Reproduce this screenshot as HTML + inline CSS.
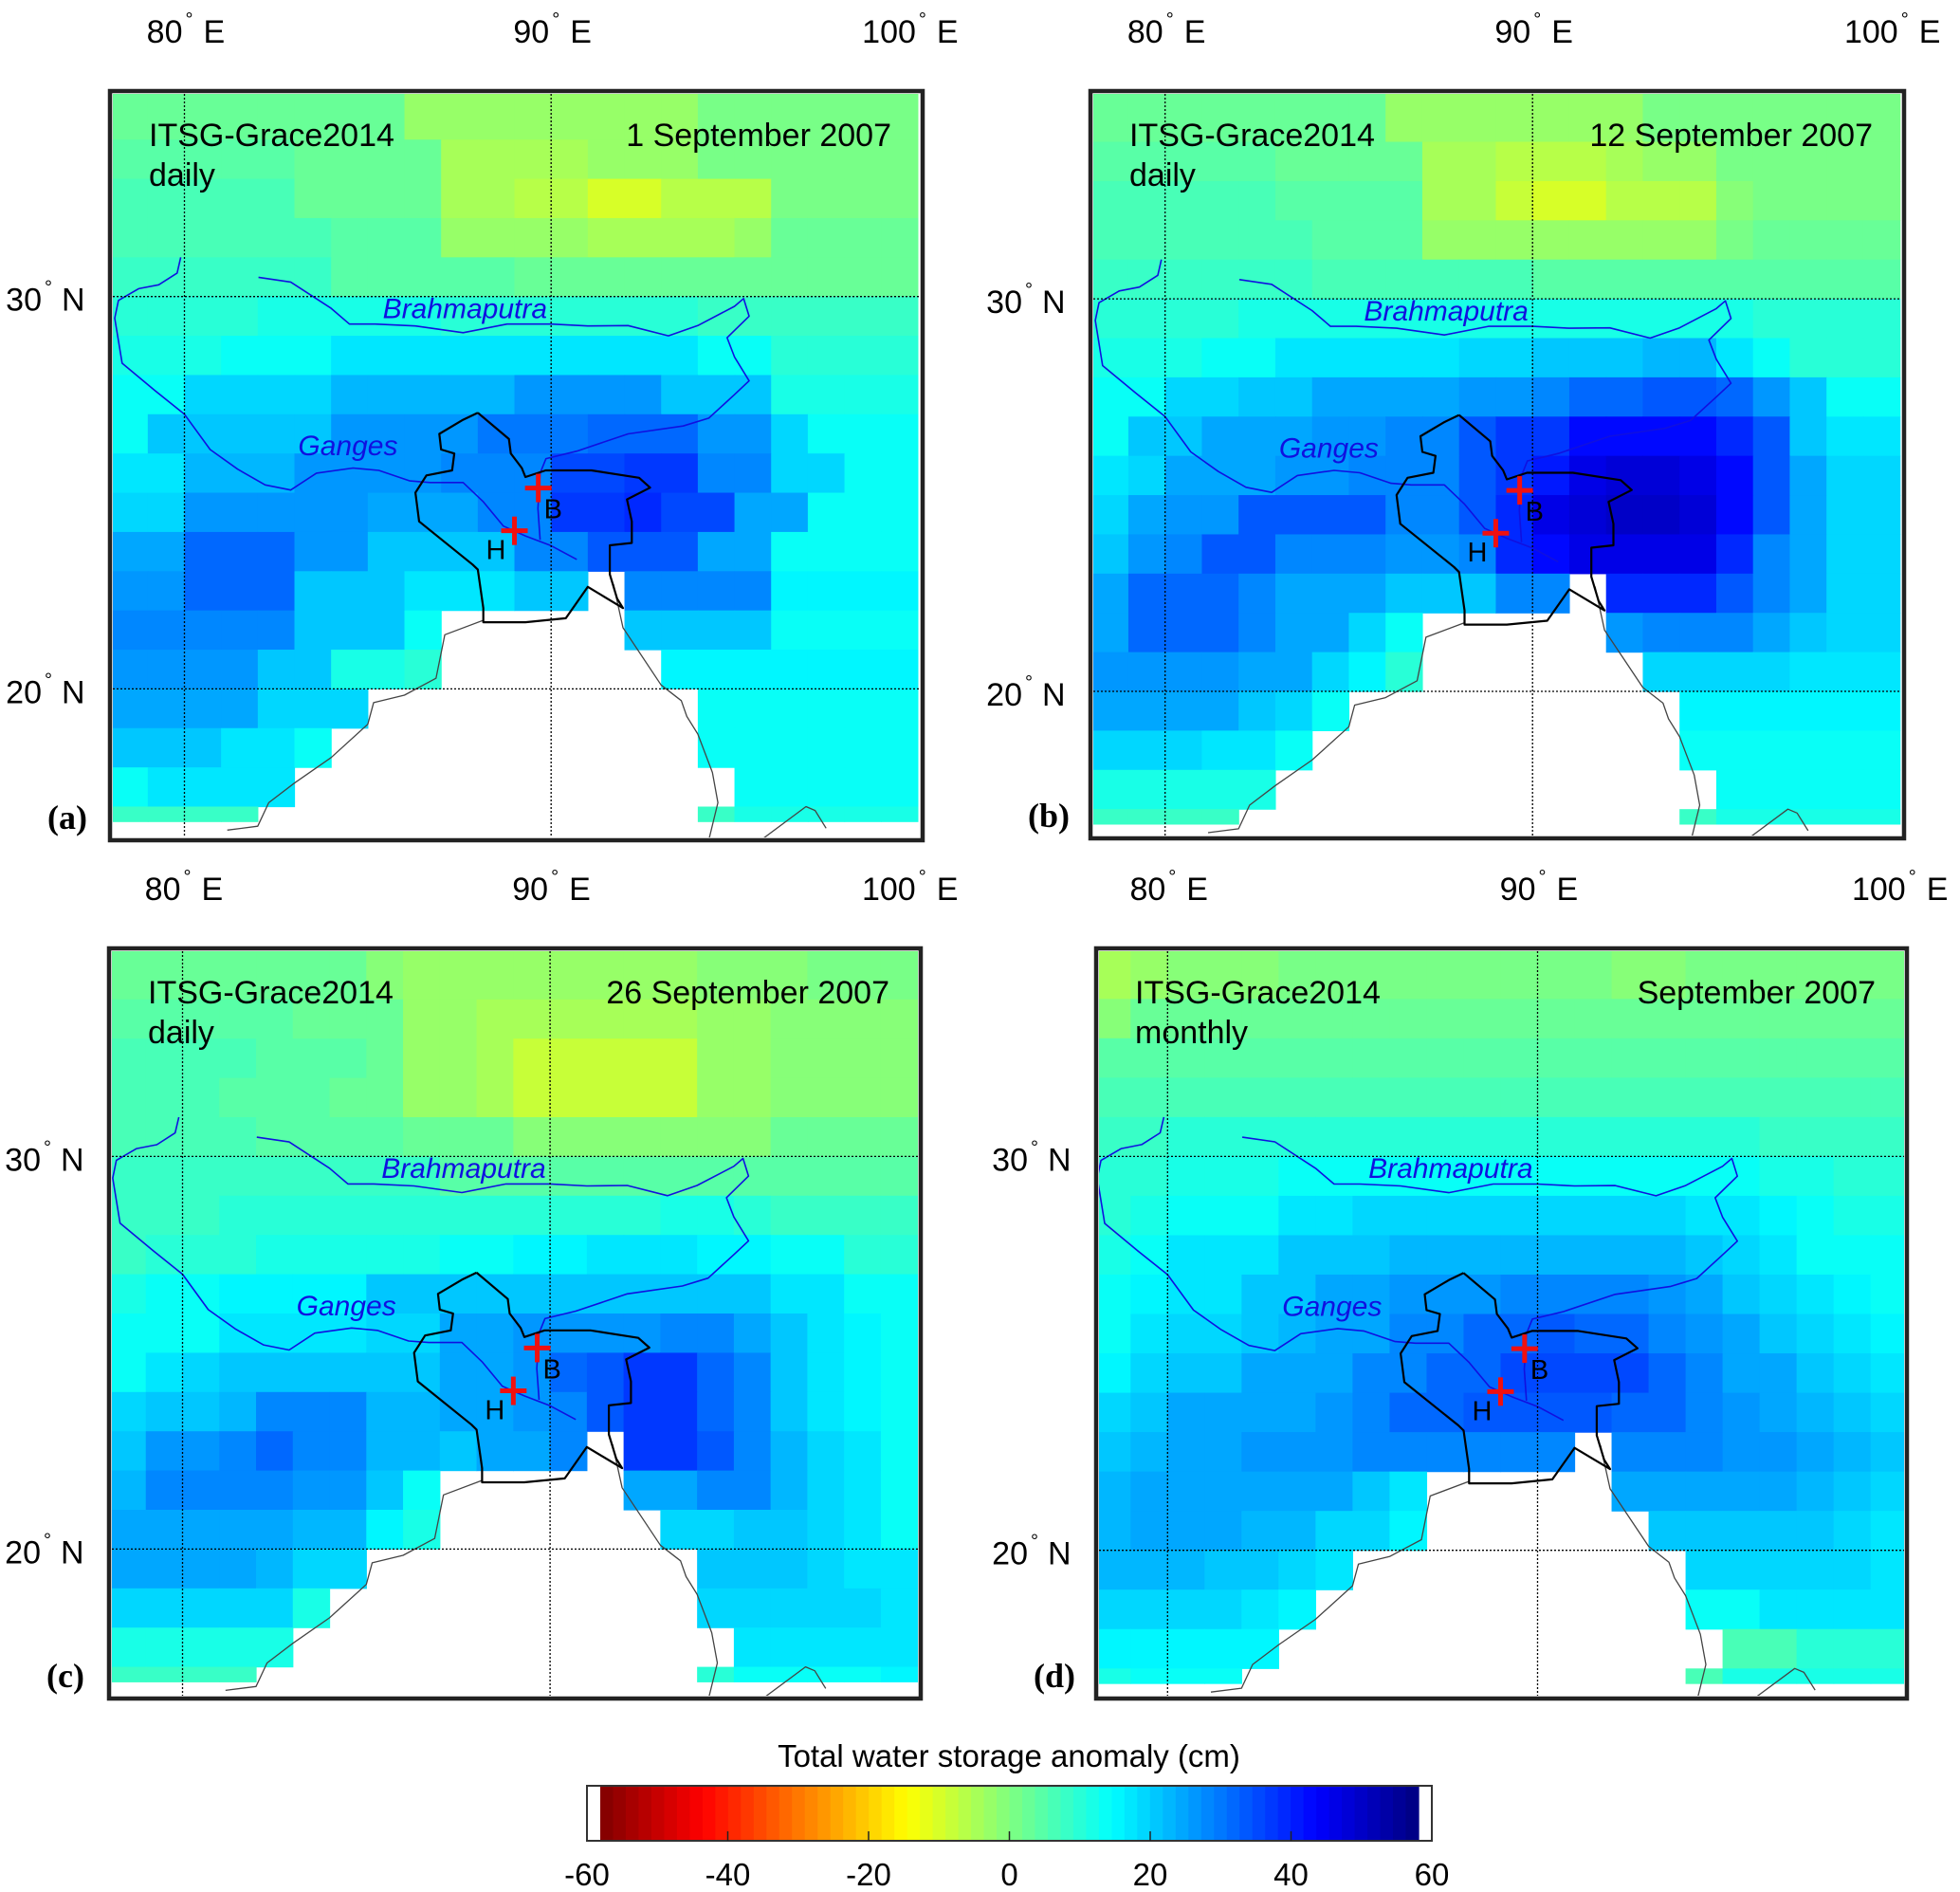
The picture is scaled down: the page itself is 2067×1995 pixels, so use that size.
<!DOCTYPE html>
<html><head><meta charset="utf-8">
<style>
html,body{margin:0;padding:0;background:#fff;}
svg{display:block;font-family:"Liberation Sans",Arial,sans-serif;}
</style></head>
<body>
<svg id="fig" width="2067" height="1995" viewBox="0 0 2067 1995" xmlns="http://www.w3.org/2000/svg"></svg>
<script>
const N = null;
const lonEdges = [78,79,80,81,82,83,84,85,86,87,88,89,90,91,92,93,94,95,96,97,98,99];
const latTops = [35,34,33,32,31,30,29,28,27,26,25,24,23,22,21,20,19,18,17];
const lonTicks = [80,90,100];
const latTicks = [30,20];
const cbTicks = [-60,-40,-20,0,20,40,60];

const tswsA = [
[2,2,2,2,2,2,2,2,-2,-2,-2,-2,-2,-2,-2,-2,1,1,1,1,1,1],
[5,5,5,5,5,2,2,2,2,-4,-4,-4,-4,-3,-3,-3,1,1,1,1,1,1],
[6,6,6,6,6,3,3,3,3,-5,-5,-6,-6,-10,-10,-7,-7,-6,1,1,1,1],
[7,7,7,7,7,6,5,5,5,-2,-2,-2,-2,-5,-5,-5,-5,-2,2,2,2,2],
[8,8,8,8,8,8,5,5,5,5,5,2,2,2,2,2,2,2,3,3,3,3],
[10,10,10,10,12,12,12,12,12,10,10,10,10,10,10,10,8,8,8,8,8,8],
[12,12,12,15,15,15,17,17,17,17,17,17,17,18,18,18,15,15,10,10,10,10],
[15,15,20,20,20,20,24,24,24,24,24,27,27,27,27,22,22,22,13,13,13,13],
[15,22,22,22,22,22,27,27,27,27,31,31,31,33,33,33,27,27,20,15,15,15],
[17,17,24,24,24,27,27,27,27,30,30,30,36,36,38,38,30,30,20,20,15,15],
[20,20,28,28,28,28,28,26,26,26,30,30,38,38,40,36,36,25,25,15,15,15],
[25,25,32,32,32,28,28,22,22,22,22,30,30,35,35,35,25,25,15,15,15,15],
[28,28,32,32,32,22,22,22,18,18,18,22,22,N,30,30,30,30,16,16,16,16],
[30,30,30,30,30,22,22,22,14,N,N,N,N,N,22,22,22,22,15,15,15,15],
[28,28,28,28,22,22,12,12,10,N,N,N,N,N,N,16,16,16,16,16,16,16],
[25,25,25,25,20,20,20,N,N,N,N,N,N,N,N,N,15,15,15,15,15,15],
[22,22,22,18,18,15,N,N,N,N,N,N,N,N,N,N,14,14,14,14,14,14],
[15,17,17,17,17,N,N,N,N,N,N,N,N,N,N,N,N,14,14,14,14,14],
[8,8,8,8,N,N,N,N,N,N,N,N,N,N,N,N,8,12,12,12,12,12]];

const tswsB = [
[2,2,2,2,2,2,2,2,-2,-2,-2,-2,-2,-2,-2,1,1,1,1,1,1,1],
[5,5,5,5,5,3,3,3,3,-5,-5,-7,-7,-7,-5,-3,-3,1,1,1,1,1],
[6,6,6,6,6,4,4,4,4,-5,-5,-8,-10,-10,-7,-6,-6,0,1,1,1,1],
[7,7,7,7,7,6,5,5,5,-2,-2,-2,-2,-2,-2,-2,-2,1,2,2,2,2],
[8,8,8,8,8,8,7,7,7,7,7,7,5,5,5,5,5,5,5,5,5,5],
[10,10,10,10,12,12,12,12,12,12,12,12,12,12,12,12,12,12,10,10,10,10],
[12,12,12,15,15,18,18,18,18,18,20,20,22,22,22,24,24,18,14,10,10,10],
[15,15,20,20,22,22,26,26,26,26,28,28,30,32,32,34,34,32,28,22,15,15],
[15,22,22,25,25,25,28,28,30,30,34,38,38,44,44,44,44,40,35,22,18,18],
[17,20,25,25,25,28,28,30,30,30,34,38,42,48,50,50,48,44,35,25,20,20],
[20,25,28,28,34,34,34,34,30,30,34,40,48,50,52,52,50,45,35,25,20,20],
[22,28,30,34,34,30,30,30,28,28,30,40,45,48,48,48,48,40,30,25,20,20],
[25,32,32,32,30,26,26,26,22,22,22,30,30,N,40,40,40,35,30,25,20,20],
[25,32,32,32,30,25,25,20,14,N,N,N,N,N,28,30,30,30,25,22,20,20],
[28,28,28,28,25,25,20,16,10,N,N,N,N,N,N,20,20,20,20,18,18,18],
[25,25,25,25,22,20,15,N,N,N,N,N,N,N,N,N,16,16,16,16,16,16],
[20,20,20,18,18,15,N,N,N,N,N,N,N,N,N,N,14,14,14,14,14,14],
[13,13,13,13,13,N,N,N,N,N,N,N,N,N,N,N,N,14,14,14,14,14],
[8,8,8,8,N,N,N,N,N,N,N,N,N,N,N,N,8,12,12,12,12,12]];

const tswsC = [
[3,3,3,3,3,2,2,0,-2,-2,-2,-2,-2,-2,-2,-2,0,0,0,1,1,1],
[5,5,5,5,5,3,3,3,-3,-3,-5,-5,-5,-5,-4,-4,-2,-2,0,0,0,0],
[6,6,6,6,4,4,4,2,-3,-3,-5,-9,-9,-9,-9,-8,-3,-3,0,0,0,0],
[7,7,7,5,5,5,3,3,-2,-2,-5,-8,-8,-8,-8,-8,-3,-3,0,0,0,0],
[7,7,7,7,5,5,5,5,2,2,2,-1,-1,-1,-1,-1,-1,0,2,2,2,2],
[8,8,8,8,8,8,8,8,8,5,5,5,5,5,5,5,5,5,5,5,5,5],
[8,8,8,10,10,10,10,10,10,10,10,10,10,10,10,12,12,10,8,8,8,8],
[8,10,10,10,12,12,12,12,12,15,15,16,16,18,18,18,16,16,15,15,10,10],
[12,15,15,16,16,16,16,22,22,22,22,22,22,22,22,22,22,22,18,18,15,15],
[15,15,15,17,17,17,17,20,20,25,25,28,28,28,28,30,30,25,22,18,16,15],
[15,17,20,22,22,22,22,22,22,25,25,28,32,35,38,38,32,30,22,18,16,15],
[20,22,22,24,30,30,30,24,24,25,25,28,30,35,38,38,32,30,22,18,16,15],
[22,28,28,30,32,30,30,24,24,22,25,25,30,N,38,38,34,30,24,20,18,15],
[24,30,30,30,30,28,28,22,15,N,N,N,N,N,26,26,30,30,24,20,18,15],
[26,26,26,26,26,24,24,16,12,N,N,N,N,N,N,20,20,22,22,20,18,15],
[26,26,26,26,24,20,20,N,N,N,N,N,N,N,N,N,22,22,22,20,18,18],
[20,20,20,20,20,12,N,N,N,N,N,N,N,N,N,N,20,20,20,20,20,18],
[12,12,12,12,12,N,N,N,N,N,N,N,N,N,N,N,N,18,18,18,18,18],
[8,8,8,8,N,N,N,N,N,N,N,N,N,N,N,N,10,14,14,14,14,16]];

const tswsD = [
[-4,-2,0,0,0,1,1,1,1,1,1,1,1,1,0,0,1,1,1,1,1,1],
[0,2,2,2,2,2,2,3,3,3,3,3,2,2,3,3,3,3,3,3,3,3],
[5,5,5,5,5,5,5,5,5,5,5,5,5,5,5,5,5,5,5,5,5,5],
[6,6,6,6,6,6,6,6,7,7,7,7,7,7,7,7,7,7,6,6,6,6],
[8,8,10,10,10,10,10,10,10,10,10,10,10,10,10,10,10,10,8,8,8,8],
[10,10,12,12,12,14,14,14,14,14,14,14,14,14,14,14,14,14,12,12,10,10],
[10,12,14,15,15,18,18,20,20,20,20,20,20,20,20,20,18,18,16,14,12,12],
[12,15,18,18,18,22,22,22,24,24,24,24,24,24,24,24,22,20,18,15,14,14],
[14,16,18,18,22,22,25,25,28,28,28,30,30,30,30,28,25,22,20,18,16,15],
[14,18,20,20,22,24,26,26,30,30,32,32,34,32,32,30,28,25,22,20,18,16],
[16,20,22,22,25,25,25,30,30,32,32,36,36,36,36,32,30,26,25,22,20,18],
[20,22,25,25,25,25,28,30,32,32,34,34,34,34,32,32,30,28,26,24,22,20],
[22,24,25,25,28,28,28,30,30,30,30,30,30,N,30,30,30,28,28,26,24,22],
[24,26,26,26,26,26,26,22,18,N,N,N,N,N,26,26,26,26,26,24,22,20],
[24,26,26,26,24,24,20,20,16,N,N,N,N,N,N,22,22,22,22,22,20,18],
[24,24,24,22,22,20,18,N,N,N,N,N,N,N,N,N,20,20,20,20,20,18],
[20,20,20,20,18,16,N,N,N,N,N,N,N,N,N,N,14,14,18,18,18,18],
[16,16,16,16,16,N,N,N,N,N,N,N,N,N,N,N,N,6,6,10,10,10],
[12,14,14,14,N,N,N,N,N,N,N,N,N,N,N,N,6,12,12,12,12,12]];

const brahmaputra = [[82.02,30.49],[82.9,30.37],[84.0,29.7],[84.5,29.3],[85.2,29.3],[86.3,29.25],[87.6,29.08],[88.8,29.3],[90,29.3],[91,29.25],[92.1,29.26],[93.2,29.0],[94,29.26],[95,29.75],[95.25,29.95],[95.4,29.5],[94.8,28.95],[95.0,28.46],[95.4,27.85],[95.0,27.5],[94.3,26.9],[93.6,26.7],[92.1,26.5],[90.7,26.06],[89.86,25.87],[89.7,25.5],[89.64,24.6],[89.7,23.8]];
const ganges = [[79.9,31.0],[79.8,30.6],[79.3,30.3],[78.75,30.2],[78.2,29.9],[78.1,29.45],[78.3,28.3],[79.2,27.6],[80.0,27.0],[80.7,26.1],[81.45,25.6],[82.2,25.2],[82.9,25.07],[83.6,25.5],[84.6,25.63],[85.3,25.57],[86.15,25.3],[86.7,25.26],[87.6,25.26],[88.15,24.77],[88.7,24.15],[89.3,23.9],[90.0,23.65],[90.7,23.3]];
const border = [[88.0,27.04],[88.85,26.37],[88.9,26.0],[89.2,25.63],[89.3,25.4],[89.85,25.57],[91.1,25.57],[92.4,25.38],[92.7,25.13],[92.07,24.83],[92.2,24.27],[92.2,23.72],[91.6,23.66],[91.6,22.92],[91.8,22.3],[91.96,22.06],[91.0,22.6],[90.4,21.8],[89.3,21.7],[88.15,21.7],[88.15,22.06],[88.0,23.04],[87.86,23.17],[86.4,24.27],[86.3,25.0],[86.6,25.44],[87.3,25.57],[87.36,26.0],[87.0,26.1],[86.95,26.5],[87.6,26.86],[88.0,27.04]];
const coastWest = [[81.17,16.4],[82.0,16.5],[82.3,17.1],[83.0,17.6],[84.0,18.25],[85.0,19.1],[85.16,19.65],[86.0,19.84],[86.86,20.27],[87.1,21.38],[88.15,21.75]];
const coastEast = [[91.7,22.67],[91.96,21.56],[93.0,20.1],[93.55,19.7],[93.7,19.3],[94.0,18.85],[94.4,17.87],[94.55,17.1],[94.3,16.15]];
const coastSE = [[95.8,16.2],[96.95,17.0],[97.2,16.9],[97.5,16.45]];
const stationB = [89.65,25.12];
const stationH = [89.0,24.03];

const panels = [
 {id:'a', data:tswsA, x80:194.5, x90:581.2, y30:312.7, y20:726.4, fx:114, fy:94, fw:861, fh:794, t1:'ITSG-Grace2014', t2:'daily', date:'1 September 2007'},
 {id:'b', data:tswsB, x80:1228.7, x90:1616.2, y30:315.1, y20:729.0, fx:1148, fy:94, fw:862, fh:792, t1:'ITSG-Grace2014', t2:'daily', date:'12 September 2007'},
 {id:'c', data:tswsC, x80:192.5, x90:580.1, y30:1219.4, y20:1633.4, fx:113, fy:998, fw:860, fh:795, t1:'ITSG-Grace2014', t2:'daily', date:'26 September 2007'},
 {id:'d', data:tswsD, x80:1231.3, x90:1621.5, y30:1219.4, y20:1634.7, fx:1154, fy:998, fw:859, fh:795, t1:'ITSG-Grace2014', t2:'monthly', date:'September 2007'}
];

const SVGNS='http://www.w3.org/2000/svg';
const svg=document.getElementById('fig');
function mk(tag,attrs,parent){const e=document.createElementNS(SVGNS,tag);for(const k in attrs)e.setAttribute(k,attrs[k]);(parent||svg).appendChild(e);return e;}

function jet(t){const c=x=>Math.max(0,Math.min(1,x));return [c(1.5-Math.abs(4*t-3)),c(1.5-Math.abs(4*t-2)),c(1.5-Math.abs(4*t-1))];}
function colorOf(v){
  let t=(60-v)/120; let idx=Math.min(63,Math.max(0,Math.floor(t*64))); t=(idx+0.5)/64;
  const c=jet(t); return 'rgb('+c.map(x=>Math.round(x*255)).join(',')+')';}

const defs=mk('defs',{});
panels.forEach((p,pi)=>{
  const sx=(p.x90-p.x80)/10, sy=(p.y20-p.y30)/10;
  const X=lon=>p.x80+(lon-80)*sx;
  const Y=lat=>p.y30-(lat-30)*sy;
  const ix=p.fx+5, iy=p.fy+5, iw=p.fw-10, ih=p.fh-10;
  const cp=mk('clipPath',{id:'clip'+p.id},defs);
  mk('rect',{x:ix,y:iy,width:iw,height:ih},cp);
  const g=mk('g',{'clip-path':'url(#clip'+p.id+')'});
  
  
  mk('rect',{x:ix,y:iy,width:iw,height:ih,fill:'#fff'},g);
  p.data.forEach((row,r)=>{
    row.forEach((v,c)=>{
      if(v===null)return;
      const top=latTops[r], bot=(r===latTops.length-1)?16.62:top-1;
      const topEff=(r===0)?36:top;
      const lon0=lonEdges[c], lon1=lon0+1;
      const rc=mk('rect',{x:X(lon0).toFixed(2),y:Y(topEff).toFixed(2),width:(X(lon1)-X(lon0)+0.6).toFixed(2),height:(Y(bot)-Y(topEff)+0.6).toFixed(2),fill:colorOf(v)},g);
      
      
    });
  });
  const line=(pts,color,w,name)=>{const e=mk('polyline',{points:pts.map(q=>X(q[0]).toFixed(1)+','+Y(q[1]).toFixed(1)).join(' '),fill:'none',stroke:color,'stroke-width':w,'stroke-linejoin':'round'},g);
    
    };
  line(coastWest,'#444',1.3,'coastline-west');
  line(coastEast,'#444',1.3,'coastline-east');
  line(coastSE,'#444',1.3,'coastline-southeast');
  line(brahmaputra,'#1010e0',1.6,'brahmaputra-river');
  line(ganges,'#1010e0',1.6,'ganges-river');
  line(border,'#000',2.2,'bangladesh-border');
  lonTicks.forEach(l=>{if(l<100){const e=mk('line',{x1:X(l),x2:X(l),y1:iy,y2:iy+ih,stroke:'#000','stroke-width':1.3,'stroke-dasharray':'2,2'},g);
    
    }});
  latTicks.forEach(l=>{const e=mk('line',{x1:ix,x2:ix+iw,y1:Y(l),y2:Y(l),stroke:'#000','stroke-width':1.3,'stroke-dasharray':'2,2'},g);
    
    });
  const bl=mk('text',{x:X(87.65),y:Y(29.45),'text-anchor':'middle','font-size':30,'font-style':'italic',fill:'#1010e0'},g);bl.textContent='Brahmaputra';
  
  
  const gl=mk('text',{x:X(83.1),y:Y(25.95),'font-size':30,'font-style':'italic',fill:'#1010e0'},g);gl.textContent='Ganges';
  
  
  [[stationB,'B',6,32],[stationH,'H',-30,30]].forEach(s=>{
    const cx=X(s[0][0]), cy=Y(s[0][1]);
    const sg=mk('g',{},g);
    
    
    mk('line',{x1:cx-14,x2:cx+14,y1:cy,y2:cy,stroke:'#f01010','stroke-width':5},sg);
    mk('line',{x1:cx,x2:cx,y1:cy-15,y2:cy+15,stroke:'#f01010','stroke-width':5},sg);
    const t=mk('text',{x:cx+s[2],y:cy+s[3],'font-size':29,fill:'#000'},sg);t.textContent=s[1];
  });
  const t1=mk('text',{x:ix+38,y:iy+55,'font-size':34,fill:'#000'},g);t1.textContent=p.t1;
  
  
  const t2=mk('text',{x:ix+38,y:iy+97,'font-size':34,fill:'#000'},g);t2.textContent=p.t2;
  
  
  const t3=mk('text',{x:ix+iw-30,y:iy+55,'font-size':34,'text-anchor':'end',fill:'#000'},g);t3.textContent=p.date;
  
  
  const fr=mk('rect',{x:p.fx+2,y:p.fy+2,width:p.fw-4,height:p.fh-4,fill:'none',stroke:'#222','stroke-width':4.5});
  
  
  const pl=mk('text',{x:p.fx-64,y:p.fy+p.fh-14,'font-size':36,'font-weight':'bold','font-family':'"Liberation Serif",serif',fill:'#000'});
  pl.textContent='('+p.id+')';
  
  
  lonTicks.forEach(l=>{
    const x=X(l), y=p.fy-49;
    const t=mk('text',{y:y,'font-size':34,fill:'#000'});
    
    
    const a=mk('tspan',{x:x-2,'text-anchor':'end'},t);a.textContent=String(l);
    const b=mk('tspan',{x:x+1,dy:-18,'font-size':20},t);b.textContent='°';
    const c=mk('tspan',{x:x+20,dy:18},t);c.textContent='E';
  });
  latTicks.forEach(l=>{
    const y=Y(l)+15, x=p.fx-70;
    const t=mk('text',{y:y,'font-size':34,fill:'#000'});
    
    
    const a=mk('tspan',{x:x,'text-anchor':'end'},t);a.textContent=String(l);
    const b=mk('tspan',{x:x+3,dy:-18,'font-size':20},t);b.textContent='°';
    const c=mk('tspan',{x:x+21,dy:18},t);c.textContent='N';
  });
});

const cbx0=619, cbx1=1510, cby=1883, cbh=58, cc0=633, cc1=1496;
const cg=mk('g',{});


mk('rect',{x:cbx0,y:cby,width:cbx1-cbx0,height:cbh,fill:'#fff',stroke:'#333','stroke-width':2},cg);
for(let i=0;i<64;i++){
  const v0=-60+120*i/64;
  const w=(cc1-cc0)/64;
  mk('rect',{x:(cc0+i*w).toFixed(2),y:cby+1,width:(w+0.6).toFixed(2),height:cbh-2,fill:colorOf(v0+0.9375)},cg);
}
mk('rect',{x:cbx0,y:cby,width:cbx1-cbx0,height:cbh,fill:'none',stroke:'#333','stroke-width':2},cg);
const cbX=v=>cbx0+(v+60)/120*(cbx1-cbx0);
cbTicks.forEach(v=>{
  if(v>-60&&v<60) mk('line',{x1:cbX(v),x2:cbX(v),y1:cby+cbh,y2:cby+cbh-10,stroke:'#222','stroke-width':1.5},cg);
  const t=mk('text',{x:cbX(v),y:1988,'text-anchor':'middle','font-size':33,fill:'#000'},cg);
  t.textContent=String(v);
  
  
});
const ct=mk('text',{x:1064,y:1863,'text-anchor':'middle','font-size':33,fill:'#000'});
ct.textContent='Total water storage anomaly (cm)';


</script>
</body></html>
